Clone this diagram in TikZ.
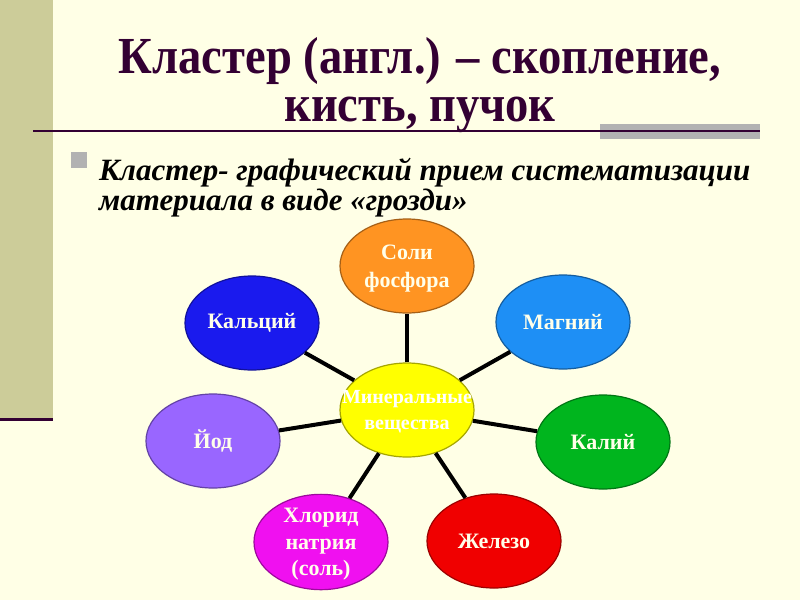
\documentclass[tikz,border=0pt]{standalone}
\usepackage{fontspec}
\setmainfont{Liberation Serif}
\newfontfamily\titlefont[FakeStretch=0.895]{Liberation Serif}
\usetikzlibrary{shapes.geometric}

\definecolor{pagebg}{HTML}{FFFFE6}
\definecolor{sidebar}{HTML}{CCCC99}
\definecolor{titlecol}{HTML}{330033}
\definecolor{greybox}{HTML}{B2B2B2}
\definecolor{blobtext}{HTML}{FFFFEA}
\definecolor{cyellow}{HTML}{FFFF00}
\definecolor{corange}{HTML}{FF9422}
\definecolor{cblue}{HTML}{1E8FF5}
\definecolor{cgreen}{HTML}{00B51E}
\definecolor{cred}{HTML}{F00000}
\definecolor{cmagenta}{HTML}{F010F0}
\definecolor{cviolet}{HTML}{9966FF}
\definecolor{cdeep}{HTML}{1A1AEE}

\begin{document}
\begin{tikzpicture}[x=1pt,y=-1pt,
  blob/.style={ellipse, draw=#1!65!black, line width=1.2pt, fill=#1,
    minimum width=134pt, minimum height=94pt, inner sep=0pt, align=center,
    text=blobtext, font=\fontsize{22}{27.5}\selectfont\bfseries},
  spoke/.style={line width=4pt}]

% page
\fill [pagebg] (0,0) rectangle (800,600) ;
\useasboundingbox (0,0) rectangle (800,600) ;
\fill [sidebar] (0,0) rectangle (53,418) ;
\draw [titlecol, line width=3pt] (0,419) to (53,419) ;
\fill [greybox] (600,124) rectangle (760,139) ;
\draw [titlecol, line width=1.3pt] (33,131) to (760,131) ;

% title
\node (head1) [anchor=base, text=titlecol, font=\titlefont\fontsize{52}{60}\selectfont\bfseries]
  at (420,73) {Кластер (англ.) – скопление,} ;
\node (head2) [anchor=base, text=titlecol, font=\titlefont\fontsize{52}{60}\selectfont\bfseries]
  at (420,121) {кисть, пучок} ;

% bullet
\fill [greybox] (71,152) rectangle (87,168) ;
\node (def1) [anchor=base west, inner sep=0pt, font=\fontsize{31}{30}\selectfont\bfseries\itshape]
  at (99,180) {Кластер- графический прием систематизации} ;
\node (def2) [anchor=base west, inner sep=0pt, font=\fontsize{31}{30}\selectfont\bfseries\itshape]
  at (99,210) {материала в виде «грозди»} ;

% cluster
\node (mid) [blob=cyellow, text=white, inner xsep=-30pt, text depth=0pt,
  font=\fontsize{20}{26}\selectfont\bfseries] at (407,410) {Минеральные\\вещества} ;
\node (soli) [blob=corange, text depth=0pt] at (407,266) {Соли\\фосфора} ;
\node (magn) [blob=cblue] at (563,322) {Магний} ;
\node (kali) [blob=cgreen] at (603,442) {Калий} ;
\node (zhel) [blob=cred] at (494,541) {Железо} ;
\node (hlor) [blob=cmagenta, text depth=0pt, font=\fontsize{22}{26.5}\selectfont\bfseries]
  at (321,542) {Хлорид\\натрия\\(соль)} ;
\node (jod) [blob=cviolet] at (213,441) {Йод} ;
\node (kalc) [blob=cdeep] at (252,323) {Кальций} ;

\foreach \leaf in {soli,magn,kali,zhel,hlor,jod,kalc}
  \draw [spoke] (mid) to (\leaf) ;

\end{tikzpicture}
\end{document}
